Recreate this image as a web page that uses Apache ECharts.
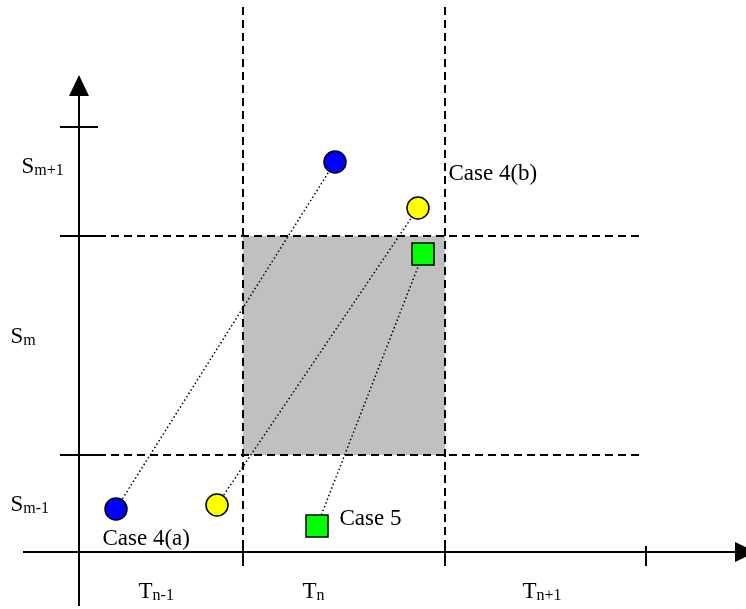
<!DOCTYPE html>
<html><head><meta charset="utf-8">
<script src="https://cdn.jsdelivr.net/npm/echarts@6/dist/echarts.min.js"></script>
<style>html,body{margin:0;padding:0;background:#fff}#c{width:746px;height:609px}</style>
</head><body><div id="c"></div>
<script>
// ---- data (diagram coordinates; origin at the axis crossing) ----
const timeBounds = [164, 366, 567];          // boundaries between time slots on the T axis
const spaceBounds = [97, 316, 425];          // boundaries between space slots on the S axis
const timeLabels = ['n-1', 'n', 'n+1'];
const timeLabelX = [59, 223, 443];
const spaceLabels = ['m+1', 'm', 'm-1'];
const spaceLabelX = [-58, -69, -69];
const spaceLabelY = [385, 215, 47];
const case4aPoints = [[37, 43], [256, 390]];
const case4bPoints = [[138, 47], [339, 344]];
const case5Points = [[238, 26], [344, 298]];
const caseLabels = ['Case 4(a)', 'Case 4(b)', 'Case 5'];
const caseLabelPos = [[23, 13], [369, 378], [260, 33]];
const shadedCell = [[timeBounds[0], spaceBounds[0]], [timeBounds[1], spaceBounds[1]]];
const xAxisExtent = [-56, 656];
const yAxisExtent = [-54, 456];
const axisTopEnd = 545;
const axisRightEnd = 564;

const FONT = 'Liberation Serif, Times New Roman, serif';

const solidLines = [
  [{coord: [xAxisExtent[0], 0]}, {coord: [xAxisExtent[1], 0]}],
  [{coord: [0, yAxisExtent[0]]}, {coord: [0, yAxisExtent[1]]}]
];
spaceBounds.forEach(s => solidLines.push([{coord: [-19, s]}, {coord: [19, s]}]));
timeBounds.forEach(t => solidLines.push([{coord: [t, -14]}, {coord: [t, 6]}]));

const dashedLines = [];
timeBounds.slice(0, 2).forEach(t => dashedLines.push([{coord: [t, axisTopEnd]}, {coord: [t, 0]}]));
spaceBounds.slice(0, 2).forEach(s => dashedLines.push([{coord: [19, s]}, {coord: [axisRightEnd, s]}]));

const rich = {
  b: {fontSize: 23, fontFamily: FONT, color: '#000', verticalAlign: 'bottom', lineHeight: 23},
  s: {fontSize: 16, fontFamily: FONT, color: '#000', verticalAlign: 'bottom', lineHeight: 10}
};
const textItems = [];
spaceLabels.forEach((l, i) => textItems.push({value: [spaceLabelX[i], spaceLabelY[i]], txt: '{b|S}{s|' + l + '}'}));
timeLabels.forEach((l, i) => textItems.push({value: [timeLabelX[i], -40], txt: '{b|T}{s|' + l + '}'}));
caseLabels.forEach((l, i) => textItems.push({value: caseLabelPos[i], txt: '{b|' + l + '}'}));

function conn(points) {
  return {type: 'line', data: points, symbol: 'none', silent: true, z: 3,
    lineStyle: {color: '#000', width: 1.5, type: [1.5, 2.5], opacity: 1}};
}
function marker(points, symbol, color) {
  return {type: 'scatter', data: points, symbol: symbol, symbolSize: 22, silent: true, z: 5,
    itemStyle: {color: color, borderColor: '#000', borderWidth: 1.5, opacity: 1}};
}

const chart = echarts.init(document.getElementById('c'), null, {renderer: 'canvas'});
chart.setOption({
  animation: false,
  backgroundColor: '#fff',
  grid: {left: 0, right: 0, top: 0, bottom: 0},
  xAxis: {type: 'value', min: -79, max: 667, show: false},
  yAxis: {type: 'value', min: -57, max: 552, show: false},
  series: [
    {type: 'line', data: [], silent: true, z: 1,
      markArea: {silent: true, itemStyle: {color: '#c0c0c0', opacity: 1}, label: {show: false},
        data: [[{coord: shadedCell[0]}, {coord: shadedCell[1]}]]}},
    {type: 'line', data: [], silent: true, z: 2,
      markLine: {silent: true, symbol: 'none', label: {show: false}, emphasis: {disabled: true},
        lineStyle: {color: '#000', width: 2, type: [8, 5], opacity: 1}, data: dashedLines}},
    {type: 'line', data: [], silent: true, z: 2,
      markLine: {silent: true, symbol: 'none', label: {show: false}, emphasis: {disabled: true},
        lineStyle: {color: '#000', width: 2, type: 'solid', opacity: 1}, data: solidLines}},
    {type: 'scatter', silent: true, z: 4, symbol: 'triangle', symbolSize: [20, 21],
      itemStyle: {color: '#000', opacity: 1},
      data: [{value: [0, yAxisExtent[1] + 10.5]}, {value: [xAxisExtent[1] + 10.5, 0], symbolRotate: -90}]},
    conn(case4aPoints), conn(case4bPoints), conn(case5Points),
    marker(case4aPoints, 'circle', '#0000ff'),
    marker(case4bPoints, 'circle', '#ffff00'),
    marker(case5Points, 'rect', '#00ff00'),
    {type: 'scatter', silent: true, z: 6, symbolSize: 1, itemStyle: {color: 'rgba(0,0,0,0)', opacity: 1},
      data: textItems.map(t => ({value: t.value, txt: t.txt})),
      label: {show: true, position: 'right', distance: 0, align: 'left', verticalAlign: 'middle',
        color: '#000', opacity: 1, formatter: p => p.data.txt, rich: rich}}
  ]
});
</script></body></html>
